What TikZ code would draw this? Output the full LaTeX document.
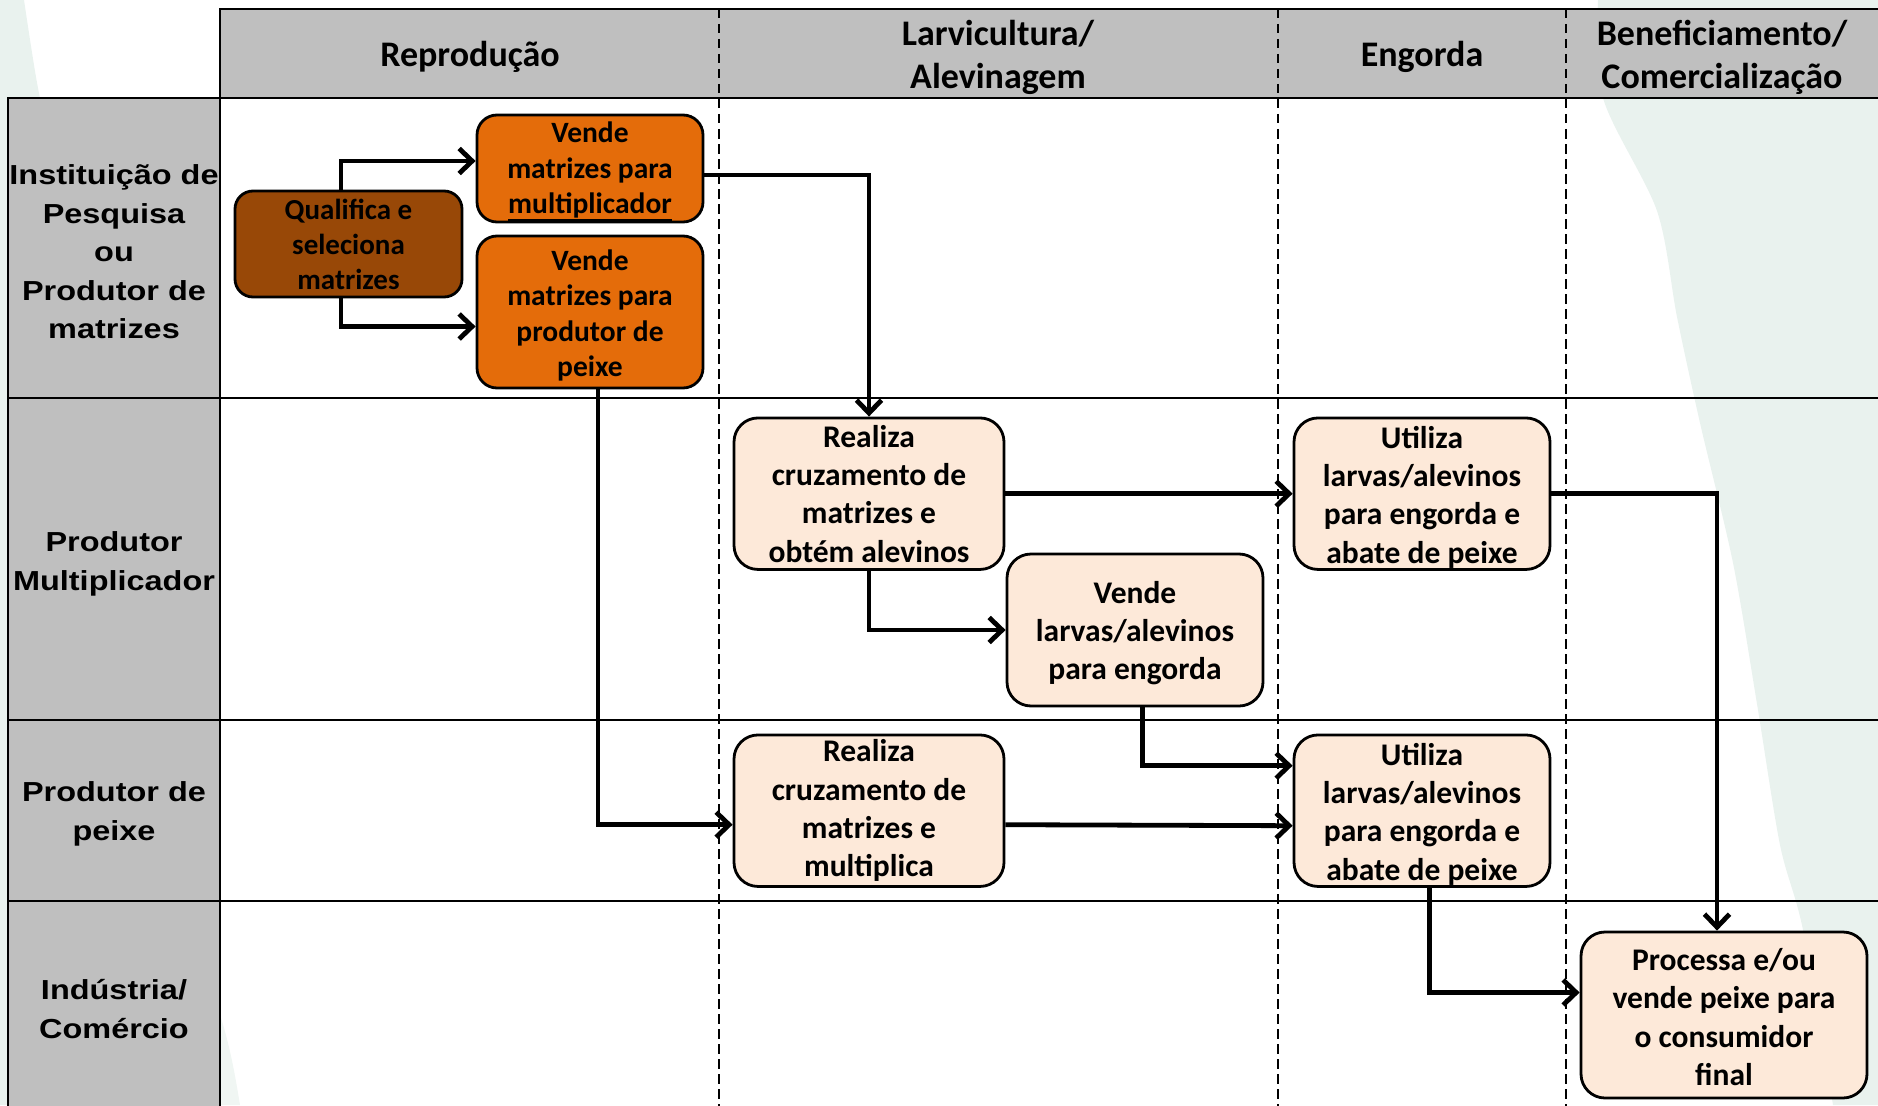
\documentclass[tikz,border=0pt]{standalone}
\usepackage{fontspec}
\usetikzlibrary{arrows.meta}
\newfontfamily\calfont{Carlito}
\newfontfamily\arialx[FakeStretch=1.18]{Liberation Sans}
\definecolor{hdrgray}{HTML}{BFBFBF}
\definecolor{colBrown}{HTML}{984807}
\definecolor{colOrange}{HTML}{E46C0A}
\definecolor{colPeach}{HTML}{FDE9D9}
\definecolor{bgGreen}{HTML}{E9F2EE}
\newcommand\ulword[1]{\setbox0\hbox{#1}\rlap{\rule[-7pt]{\wd0}{2pt}}\box0}
\begin{document}
\begin{tikzpicture}[x=1pt,y=-1pt,
  gridline/.style={line width=2.6pt, line cap=rect},
  lanesep/.style={line width=2.4pt, dash pattern=on 9.5pt off 5.5pt},
  box/.style={draw=black, line width=2.8pt, inner sep=0pt},
  brownbox/.style={box, fill=colBrown, rounded corners=18pt},
  orangebx/.style={box, fill=colOrange, rounded corners=20pt},
  peachbox/.style={box, fill=colPeach, rounded corners=24pt},
  smalltext/.style={align=center, inner sep=0pt,
     font=\calfont\bfseries\fontsize{29.5}{35.5}\selectfont},
  bigtext/.style={align=center, inner sep=0pt,
     font=\calfont\bfseries\fontsize{31.5}{38.3}\selectfont},
  hdrtext/.style={align=center, inner sep=0pt,
     font=\calfont\bfseries\fontsize{36}{43}\selectfont},
  lanetext/.style={align=center, inner sep=0pt,
     font=\arialx\bfseries\fontsize{27.5}{38.5}\selectfont},
  arr/.style={line width=4.8pt, -{Straight Barb[length=13pt,width=25pt]}},
]
\useasboundingbox (0,0) rectangle (1878,1105);
\begin{scope}
\clip (0,0) rectangle (1878,1105);
% background shapes
\fill[bgGreen] plot[smooth] coordinates {(1598,0) (1603,98) (1657,211) (1677,317) (1700,423) (1733,563) (1757,704) (1780,845) (1803,930) (1833,1105)}
  -- (1878,1105) -- (1878,0) -- cycle;
\fill[bgGreen] (0,0) -- (24,0) .. controls (30,40) and (36,80) .. (40,98) -- (40,1105) -- (0,1105) -- cycle;
\fill[bgGreen!70!white] (220,1015) .. controls (230,1045) and (236,1080) .. (240,1105) -- (220,1105) -- cycle;
% header and lane column
\fill[hdrgray] (220,9) rectangle (1890,98);
\fill[hdrgray] (8,98) rectangle (220,1110);
% grid
\draw[gridline] (220,9) -- (1890,9);
\draw[gridline] (8,98) -- (1890,98);
\draw[gridline] (8,398) -- (1890,398);
\draw[gridline] (8,720) -- (1890,720);
\draw[gridline] (8,901) -- (1890,901);
\draw[gridline] (220,9) -- (220,1110);
\draw[gridline] (8,98) -- (8,1110);
\draw[lanesep] (719,9) -- (719,1110);
\draw[lanesep] (1278,9) -- (1278,1110);
\draw[lanesep] (1566,9) -- (1566,1110);
\end{scope}
% header texts
\node[hdrtext] (h1) at (470,57) {Reprodução};
\node[hdrtext] (h2) at (998,57) {Larvicultura/\\Alevinagem};
\node[hdrtext] (h3) at (1422,57) {Engorda};
\node[hdrtext] (h4) at (1722,57) {Beneficiamento/\\Comercialização};
% lane labels
\node[lanetext] (l1) at (114,252) {Instituição de\\Pesquisa\\ou\\Produtor de\\matrizes};
\node[lanetext] (l2) at (114,564) {Produtor\\Multiplicador};
\node[lanetext] (l3) at (114,814) {Produtor de\\peixe};
\node[lanetext] (l4) at (114,1009) {Indústria/\\Comércio};
% process boxes
\node[brownbox, minimum width=227pt, minimum height=106pt,
  label={[smalltext, font=\calfont\bfseries\fontsize{29}{35}\selectfont]center:{Qualifica e\\seleciona\\matrizes}}] (q) at (348.5,244) {};
\node[orangebx, minimum width=226pt, minimum height=107pt,
  label={[smalltext, yshift=-3pt]center:{Vende\\matrizes para\\\ulword{multiplicador}}}] (vm) at (590,168.5) {};
\node[orangebx, minimum width=226pt, minimum height=152pt,
  label={[smalltext, yshift=-3.5pt]center:{Vende\\matrizes para\\produtor de\\peixe}}] (vp) at (590,312) {};
\node[peachbox, minimum width=270pt, minimum height=151.5pt,
  label={[bigtext]center:{Realiza\\cruzamento de\\matrizes e\\obtém alevinos}}] (r1) at (869,493.7) {};
\node[peachbox, minimum width=256pt, minimum height=152pt,
  label={[bigtext, yshift=-3pt]center:{Vende\\larvas/alevinos\\para engorda}}] (vl) at (1135,630) {};
\node[peachbox, minimum width=256pt, minimum height=151.5pt,
  label={[bigtext, yshift=-3.5pt]center:{Utiliza\\larvas/alevinos\\para engorda e\\abate de peixe}}] (u1) at (1422,493.7) {};
\node[peachbox, minimum width=270pt, minimum height=151.5pt,
  label={[bigtext]center:{Realiza\\cruzamento de\\matrizes e\\multiplica}}] (r2) at (869,810.7) {};
\node[peachbox, minimum width=256pt, minimum height=151.5pt,
  label={[bigtext, yshift=-3.5pt]center:{Utiliza\\larvas/alevinos\\para engorda e\\abate de peixe}}] (u2) at (1422,810.7) {};
\node[peachbox, minimum width=286pt, minimum height=166pt,
  label={[bigtext, yshift=-2pt]center:{Processa e/ou\\vende peixe para\\o consumidor\\final}}] (p) at (1724,1015) {};
% connectors
\draw[arr] ([xshift=-7.5pt]q.north) |- ([yshift=7.5pt]vm.west);
\draw[arr] ([xshift=-7.5pt]q.south) |- ([yshift=-14.5pt]vp.west);
\draw[arr] ([yshift=-6.5pt]vm.east) -| (r1.north);
\draw[arr] ([xshift=8pt]vp.south) |- ([yshift=-14pt]r2.west);
\draw[arr] (r1.east) -- (u1.west);
\draw[arr] (r1.south) |- (vl.west);
\draw[arr] ([xshift=7.5pt]vl.south) |- ([yshift=45pt]u2.west);
\draw[arr] ([yshift=-14pt]r2.east) -- ([yshift=-15pt]u2.west);
\draw[arr] (u1.east) -| ([xshift=-7pt]p.north);
\draw[arr] ([xshift=7.5pt]u2.south) |- ([yshift=22.5pt]p.west);
\end{tikzpicture}
\end{document}
